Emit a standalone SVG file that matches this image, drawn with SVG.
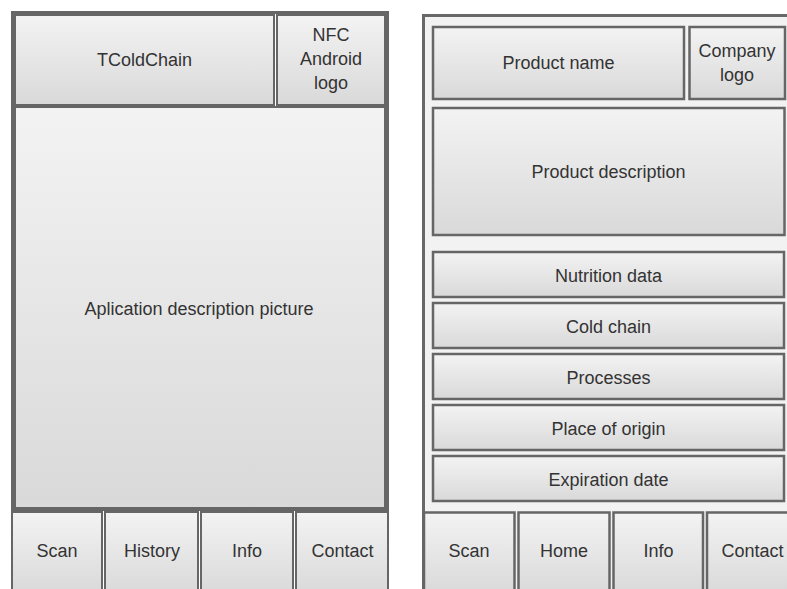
<svg xmlns="http://www.w3.org/2000/svg" width="787" height="589" viewBox="0 0 787 589">
  <defs>
    <linearGradient id="btnFill" x1="0" y1="0" x2="0" y2="1">
      <stop offset="0" stop-color="#f3f3f3"/>
      <stop offset="1" stop-color="#d9d9d9"/>
    </linearGradient>
  </defs>
  <style>
    .box { fill: url(#btnFill); stroke: #666; stroke-width: 2; }
    .rbox { fill: url(#btnFill); stroke: #666; stroke-width: 2.5; }
    .frame { fill: none; stroke: #666; stroke-width: 3; }
    .panel { fill: #f2f2f2; stroke: #686868; stroke-width: 3; }
    text { font-family: "Liberation Sans", Arial, sans-serif; font-size: 18px; fill: #333; text-anchor: middle; }
  </style>

  <rect width="787" height="589" fill="#ffffff"/>

  <!-- Left screen: home view -->
  <g id="home-screen">
    <rect class="frame" x="12.5" y="12.5" width="375" height="497"/>
    <g id="home-title">
      <rect class="box" x="15" y="15" width="259" height="90"/>
      <text x="144.5" y="65.5">TColdChain</text>
    </g>
    <g id="home-logo">
      <rect class="box" x="277" y="15" width="108" height="90"/>
      <text x="331" y="41">NFC</text>
      <text x="331" y="65">Android</text>
      <text x="331" y="89">logo</text>
    </g>
    <g id="home-picture">
      <rect class="box" x="15" y="107" width="370" height="401"/>
      <text x="199" y="315">Aplication description picture</text>
    </g>
    <g id="home-scan">
      <rect class="box" x="12" y="512" width="90" height="82"/>
      <text x="57" y="556.5">Scan</text>
    </g>
    <g id="home-history">
      <rect class="box" x="105" y="512" width="93" height="82"/>
      <text x="152" y="556.5">History</text>
    </g>
    <g id="home-info">
      <rect class="box" x="201" y="512" width="92" height="82"/>
      <text x="247" y="556.5">Info</text>
    </g>
    <g id="home-contact">
      <rect class="box" x="296" y="512" width="92" height="82"/>
      <text x="342.5" y="556.5">Contact</text>
    </g>
  </g>

  <!-- Right screen: product view -->
  <g id="product-screen">
    <rect class="panel" x="423.5" y="15.5" width="400" height="600"/>
    <g id="product-name">
      <rect class="rbox" x="433" y="27" width="251" height="72"/>
      <text x="558.5" y="69">Product name</text>
    </g>
    <g id="company-logo">
      <rect class="rbox" x="689.5" y="27" width="95.5" height="72"/>
      <text x="737" y="57">Company</text>
      <text x="737" y="81">logo</text>
    </g>
    <g id="product-description">
      <rect class="rbox" x="433" y="108" width="351.5" height="127"/>
      <text x="608.5" y="178">Product description</text>
    </g>
    <g id="nutrition-data">
      <rect class="rbox" x="433" y="252" width="351" height="45"/>
      <text x="608.5" y="281.5">Nutrition data</text>
    </g>
    <g id="cold-chain">
      <rect class="rbox" x="433" y="303" width="351" height="45"/>
      <text x="608.5" y="332.5">Cold chain</text>
    </g>
    <g id="processes">
      <rect class="rbox" x="433" y="354" width="351" height="45"/>
      <text x="608.5" y="383.5">Processes</text>
    </g>
    <g id="place-of-origin">
      <rect class="rbox" x="433" y="405" width="351" height="45"/>
      <text x="608.5" y="434.5">Place of origin</text>
    </g>
    <g id="expiration-date">
      <rect class="rbox" x="433" y="456" width="351" height="45"/>
      <text x="608.5" y="485.5">Expiration date</text>
    </g>
    <g id="product-scan">
      <rect class="rbox" x="424" y="512.5" width="90.5" height="82"/>
      <text x="469" y="557">Scan</text>
    </g>
    <g id="product-home">
      <rect class="rbox" x="518.5" y="512.5" width="91" height="82"/>
      <text x="564" y="557">Home</text>
    </g>
    <g id="product-info">
      <rect class="rbox" x="613.5" y="512.5" width="89.5" height="82"/>
      <text x="658.5" y="557">Info</text>
    </g>
    <g id="product-contact">
      <rect class="rbox" x="707" y="512.5" width="92" height="82"/>
      <text x="752.5" y="557">Contact</text>
    </g>
  </g>
</svg>
